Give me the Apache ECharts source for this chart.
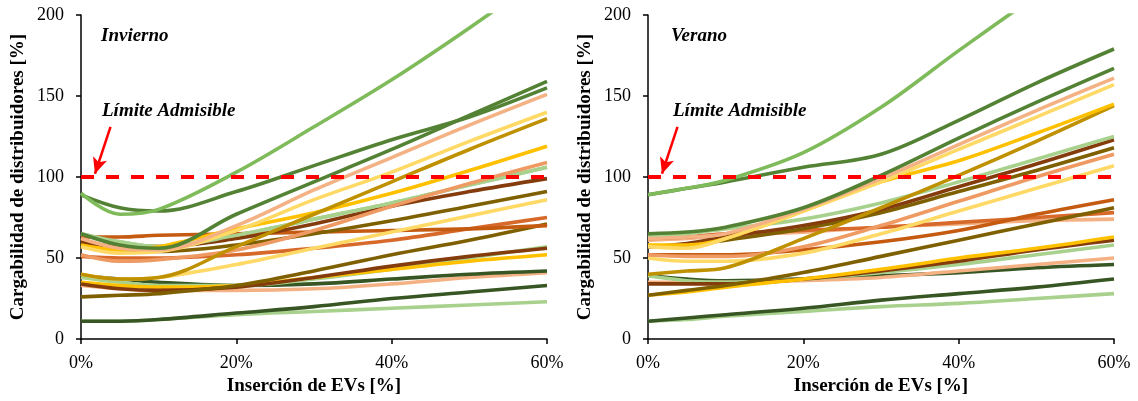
<!DOCTYPE html>
<html><head><meta charset="utf-8">
<script src="https://cdn.jsdelivr.net/npm/echarts@6/dist/echarts.min.js"></script>
<style>html,body{margin:0;padding:0;background:#fff}#c{width:1138px;height:401px}</style>
</head><body><div id="c"></div>
<script>
// x positions (EV insertion %)
const xs = [0, 5, 10, 20, 30, 40, 50, 60];
const xTicks = ['0%', '20%', '40%', '60%'];
const yTicks = [0, 50, 100, 150, 200];
const limit = 100;

// palette names
const C = {
  top: '#80bb5b', green: '#548235', dkgreen: '#375623', ltgreen: '#a9d18e',
  dkbrown: '#843c0c', orange: '#c55a11', orange2: '#d7692a', orsalmon: '#ef9a62', salmon: '#f4b183',
  dkgold: '#7f6000', gold: '#bf9000', yellow: '#ffc000', ltyellow: '#ffd966'
};

// Invierno (winter) series: [colorKey, values at xs]
const winterColors = ['ltgreen','dkgreen','salmon','dkgreen','ltgreen','yellow','dkbrown','ltgreen','dkgold','orange2','orange','ltyellow','dkgold','dkbrown','ltgreen','orsalmon','yellow','gold','ltyellow','salmon','green','green','top'];
const winterValues = [
  [11, 11, 12, 15, 17, 19, 21, 23],
  [11, 11, 12, 16, 20, 25, 29, 33],
  [33, 31, 30, 30, 31, 34, 38, 41],
  [39, 37, 35, 33, 34, 37, 40, 42],
  [38, 35, 33, 33, 37, 43, 50, 57],
  [35, 33, 32, 33, 38, 43, 48, 52],
  [34, 31, 30, 32, 38, 45, 51, 56],
  [65, 60, 57, 64, 74, 84, 95, 106],
  [26, 27, 28, 33, 42, 52, 61, 71],
  [51, 50, 50, 52, 56, 61, 68, 75],
  [63, 63, 64, 65, 66, 67, 68, 70],
  [40, 37, 38, 46, 56, 66, 76, 86],
  [59, 55, 54, 58, 65, 73, 82, 91],
  [60, 57, 57, 62, 71, 82, 91, 99],
  [65, 60, 57, 64, 74, 84, 95, 106],
  [52, 48, 49, 55, 67, 82, 96, 109],
  [58, 55, 57, 68, 78, 90, 104, 119],
  [40, 37, 38, 57, 77, 97, 117, 136],
  [57, 53, 54, 67, 86, 103, 122, 140],
  [62, 56, 55, 70, 92, 112, 132, 151],
  [65, 58, 56, 77, 97, 117, 138, 159],
  [89, 81, 79, 91, 107, 123, 137, 155],
  [90, 77, 80, 103, 131, 160, 192, 226]
];

// Verano (summer) series
const summerColors = ['ltgreen','dkgreen','dkgreen','salmon','ltgreen','dkbrown','yellow','salmon','orange2','dkgold','orange','ltyellow','orsalmon','dkgold','dkbrown','ltgreen','gold','yellow','ltyellow','salmon','green','green','top'];
const summerValues = [
  [11, 12, 14, 17, 20, 22, 25, 28],
  [11, 13, 15, 19, 24, 28, 32, 37],
  [39, 37, 36, 37, 39, 41, 44, 46],
  [35, 35, 35, 36, 38, 42, 46, 50],
  [39, 36, 35, 37, 41, 46, 52, 58],
  [34, 34, 34, 37, 42, 48, 55, 61],
  [27, 29, 32, 37, 43, 50, 56, 63],
  [61, 62, 64, 66, 69, 71, 73, 74],
  [62, 63, 65, 67, 69, 72, 75, 78],
  [27, 30, 33, 41, 51, 61, 71, 81],
  [52, 52, 52, 55, 60, 67, 77, 86],
  [50, 48, 48, 53, 65, 79, 93, 107],
  [52, 51, 51, 57, 70, 85, 100, 114],
  [57, 58, 61, 68, 78, 91, 104, 118],
  [57, 59, 63, 70, 80, 94, 108, 123],
  [63, 65, 68, 74, 84, 97, 111, 125],
  [40, 42, 44, 62, 81, 101, 122, 144],
  [58, 58, 62, 79, 97, 110, 127, 145],
  [57, 56, 62, 79, 97, 117, 137, 157],
  [62, 63, 65, 80, 99, 120, 141, 161],
  [65, 66, 69, 81, 101, 124, 146, 167],
  [89, 93, 97, 106, 114, 135, 158, 179],
  [89, 93, 98, 115, 143, 178, 212, 246]
];

const panelTitles = ['Invierno', 'Verano'];
const limitLabel = 'Límite Admisible';
const yName = 'Cargabilidad de distribuidores [%]';
const xName = 'Inserción de EVs [%]';
// arrow endpoints in data units [x%, value]
const arrowFrom = [3.8, 131];
const arrowTo = [1.8, 102];

const FONT = '"Liberation Serif", "Times New Roman", serif';
const chart = echarts.init(document.getElementById('c'), null, {renderer: 'canvas'});

function axisPair(i) {
  return {
    x: {
      type: 'value', gridIndex: i, min: 0, max: 60, interval: 20,
      name: xName, nameLocation: 'middle', nameGap: 38,
      nameTextStyle: {fontFamily: FONT, fontWeight: 'bold', fontSize: 19, color: '#000'},
      axisLine: {lineStyle: {color: '#000', width: 1.5}},
      axisTick: {show: true, length: 5, lineStyle: {color: '#000', width: 1.5}},
      axisLabel: {fontFamily: FONT, fontSize: 18, color: '#000', margin: 15,
        formatter: v => xTicks[Math.round(v / 20)]},
      splitLine: {show: false}
    },
    y: {
      type: 'value', gridIndex: i, min: 0, max: 200, interval: 50,
      name: yName, nameLocation: 'middle', nameGap: 53,
      nameTextStyle: {fontFamily: FONT, fontWeight: 'bold', fontSize: 19, color: '#000'},
      axisLine: {show: true, lineStyle: {color: '#000', width: 1.5}},
      axisTick: {show: true, length: 5, lineStyle: {color: '#000', width: 1.5}},
      axisLabel: {fontFamily: FONT, fontSize: 18, color: '#000', margin: 17,
        formatter: v => String(yTicks[Math.round(v / 50)])},
      splitLine: {show: false}
    }
  };
}
const a0 = axisPair(0), a1 = axisPair(1);

const series = [];
function addPanel(idx, colors, values) {
  values.forEach((vals, k) => {
    series.push({
      type: 'line', xAxisIndex: idx, yAxisIndex: idx, smooth: 0.35,
      showSymbol: false, silent: true, clip: true,
      lineStyle: {color: C[colors[k]], width: 3.6},
      data: xs.map((x, j) => [x, vals[j]])
    });
  });
  series.push({
    type: 'line', xAxisIndex: idx, yAxisIndex: idx, showSymbol: false, silent: true,
    lineStyle: {color: '#ff0000', width: 4, type: [13, 12]},
    data: [[0, limit], [60, limit]],
    markLine: {
      silent: true, symbol: ['none', 'arrow'], symbolSize: [11, 16],
      label: {show: false},
      lineStyle: {color: '#ff0000', width: 2.5, type: 'solid'},
      data: [[{coord: arrowFrom}, {coord: arrowTo}]]
    }
  });
}
addPanel(0, winterColors, winterValues);
addPanel(1, summerColors, summerValues);

const txt = (left, top, s) => ({type: 'text', left, top, style: {text: s, font: 'italic bold 19px ' + FONT, fill: '#000'}});

chart.setOption({
  animation: false,
  backgroundColor: '#fff',
  grid: [
    {left: 81, right: 591, top: 15, bottom: 62},
    {left: 648, right: 24, top: 15, bottom: 62}
  ],
  xAxis: [a0.x, a1.x],
  yAxis: [a0.y, a1.y],
  series,
  graphic: [
    txt(101, 27, panelTitles[0]),
    txt(102, 102, limitLabel),
    txt(671, 27, panelTitles[1]),
    txt(673, 102, limitLabel)
  ]
});
</script></body></html>
